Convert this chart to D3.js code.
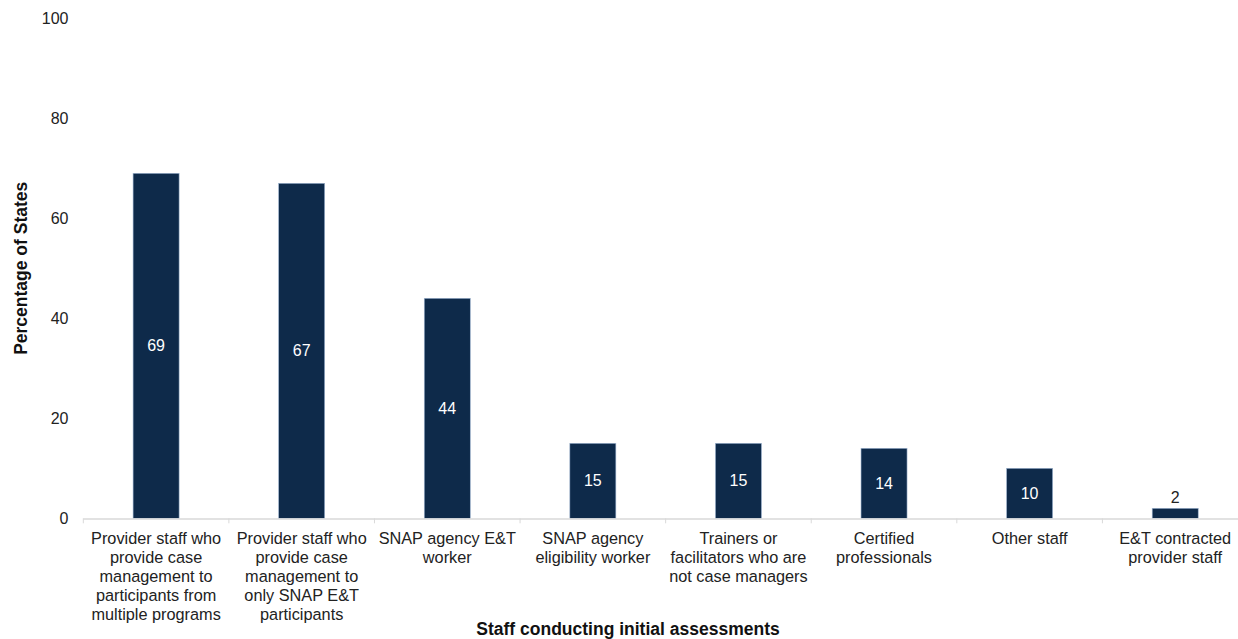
<!DOCTYPE html>
<html>
<head>
<meta charset="utf-8">
<script src="https://cdn.jsdelivr.net/npm/d3@7"></script>
<style>
    body { margin: 0; background: #fff; }
    svg text { font-family: "Liberation Sans", Arial, sans-serif; }
</style>
</head>
<body>
<div id="chart"></div>
<script>
const categories = [
    "Provider staff who|provide case|management to|participants from|multiple programs",
    "Provider staff who|provide case|management to|only SNAP E&T|participants",
    "SNAP agency E&T|worker",
    "SNAP agency|eligibility worker",
    "Trainers or|facilitators who are|not case managers",
    "Certified|professionals",
    "Other staff",
    "E&T contracted|provider staff"
];
const values = [69, 67, 44, 15, 15, 14, 10, 2];
const yTicks = [0, 20, 40, 60, 80, 100];

const wSvg = 1238, hSvg = 639;
const xLeft = 83.3, xRight = 1248, yTop = 18.3, yBottom = 518.3;

const svg = d3.select("#chart").append("svg")
    .attr("width", wSvg)
    .attr("height", hSvg);

const x = d3.scaleBand()
    .domain(categories)
    .range([xLeft, xRight])
    .paddingInner(0.684)
    .paddingOuter(0.342);

const y = d3.scaleLinear()
    .domain([0, 100])
    .range([yBottom, yTop]);

// y tick labels only, no axis line
svg.append("g").selectAll("text")
    .data(yTicks)
    .enter()
    .append("text")
        .attr("x", 68.5)
        .attr("y", d => y(d))
        .attr("dy", "0.35em")
        .attr("text-anchor", "end")
        .style("font-size", "16px")
        .style("fill", "#222")
        .text(d => d);

// bars
svg.append("g").selectAll("rect")
    .data(values)
    .enter()
    .append("rect")
        .attr("x", (d, i) => x(categories[i]))
        .attr("y", d => y(d))
        .attr("width", x.bandwidth())
        .attr("height", d => y(0) - y(d))
        .style("fill", "#0e2a4a")
        .style("stroke", "#9db3cf")
        .style("stroke-width", 0.6);

// x axis line with boundary ticks
const band = x.step();
const ax = svg.append("g");
ax.append("line")
    .attr("x1", xLeft).attr("x2", xRight)
    .attr("y1", yBottom + 0.7).attr("y2", yBottom + 0.7)
    .style("stroke", "#d9d9d9")
    .style("stroke-width", 1.5);
ax.selectAll("line.tick")
    .data(d3.range(categories.length + 1))
    .enter()
    .append("line")
        .classed("tick", true)
        .attr("x1", i => xLeft + i * band)
        .attr("x2", i => xLeft + i * band)
        .attr("y1", yBottom)
        .attr("y2", yBottom + 5)
        .style("stroke", "#d9d9d9")
        .style("stroke-width", 1);

// value labels
svg.append("g").selectAll("text")
    .data(values)
    .enter()
    .append("text")
        .attr("x", (d, i) => x(categories[i]) + x.bandwidth() / 2)
        .attr("y", d => d < 5 ? y(d) - 11 : (y(d) + y(0)) / 2)
        .attr("dy", "0.35em")
        .attr("text-anchor", "middle")
        .style("font-size", "16px")
        .style("fill", d => d < 5 ? "#222" : "#fff")
        .text(d => d);

// category labels
svg.append("g").selectAll("text")
    .data(categories)
    .enter()
    .append("text")
        .attr("x", d => x(d) + x.bandwidth() / 2)
        .attr("y", 544)
        .attr("text-anchor", "middle")
        .style("font-size", "16.3px")
        .style("fill", "#222")
        .each(function(d){
            const t = d3.select(this);
            d.split("|").forEach((line, k) => {
                t.append("tspan")
                    .attr("x", x(d) + x.bandwidth() / 2)
                    .attr("dy", k === 0 ? 0 : 19)
                    .text(line);
            });
        });

// axis titles
svg.append("text")
    .attr("transform", `translate(26.5, ${(yTop + yBottom) / 2}) rotate(-90)`)
    .attr("text-anchor", "middle")
    .style("font-size", "17.5px")
    .style("font-weight", "bold")
    .style("fill", "#111")
    .text("Percentage of States");

svg.append("text")
    .attr("x", 628)
    .attr("y", 635)
    .attr("text-anchor", "middle")
    .style("font-size", "17.5px")
    .style("font-weight", "bold")
    .style("fill", "#111")
    .text("Staff conducting initial assessments");
</script>
</body>
</html>
